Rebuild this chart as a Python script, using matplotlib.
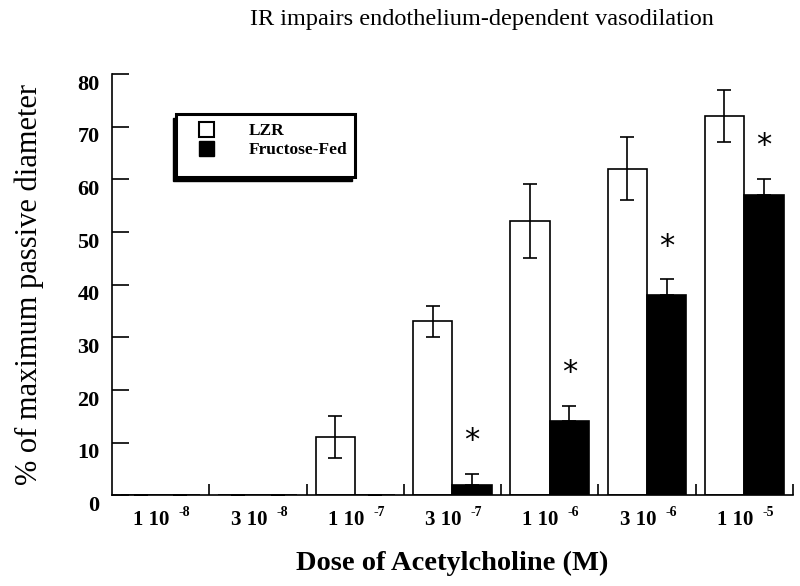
import numpy as np
import matplotlib
matplotlib.use("Agg")
import matplotlib.pyplot as plt
from matplotlib.patches import Patch, Rectangle
from matplotlib.transforms import ScaledTranslation

plt.rcParams['font.family'] = ['Liberation Serif', 'DejaVu Serif']

doses = ["1 10", "3 10", "1 10", "3 10", "1 10", "3 10", "1 10"]
exponents = ["-8", "-8", "-7", "-7", "-6", "-6", "-5"]
lzr = [0, 0, 11, 33, 52, 62, 72]
lzr_err = [0, 0, 4, 3, 7, 6, 5]
fructose = [0, 0, 0, 2, 14, 38, 57]
fructose_err = [0, 0, 0, 2, 3, 3, 3]
significant = [False, False, False, True, True, True, True]

fig = plt.figure(figsize=(8, 5.86), dpi=100)
ax = fig.add_axes([0.14, 0.155, 0.851, 0.719])

x = np.arange(len(doses))
w = 0.405

ax.bar(x - w / 2, lzr, w, color='white', edgecolor='black', linewidth=1.2, zorder=2)
ax.bar(x + w / 2, fructose, w, color='black', edgecolor='black', linewidth=1.2, zorder=2)

ax.errorbar(x - w / 2, lzr, yerr=lzr_err, fmt='none', ecolor='black',
            elinewidth=1.2, capsize=5, capthick=1.2, zorder=3)
ax.errorbar(x + w / 2, fructose, yerr=[np.zeros(len(x)), fructose_err], fmt='none',
            ecolor='black', elinewidth=1.2, capsize=5, capthick=1.2, zorder=3)

for xi, v, e, s in zip(x, fructose, fructose_err, significant):
    if s:
        ax.text(xi + w / 2, v + e + 6.3, "*", ha='center', va='center',
                fontsize=22, family='DejaVu Sans')

ax.set_xlim(-0.5, len(doses) - 0.5)
ax.set_ylim(0, 80)
ax.set_yticks(np.arange(0, 81, 10))
ax.set_xticks(x)
ax.set_xticklabels(doses)
ax.set_xticks(x + 0.5, minor=True)

ax.tick_params(axis='y', direction='in', length=12, width=1.2, labelsize=16, pad=9)
ax.tick_params(axis='x', which='major', length=0, labelsize=15, pad=11)
ax.tick_params(axis='x', which='minor', direction='in', length=8, width=1.2)
for lab in ax.get_yticklabels() + ax.get_xticklabels():
    lab.set_fontweight('bold')
yoff = ScaledTranslation(0, -6 / 72, fig.dpi_scale_trans)
for lab in ax.get_yticklabels():
    lab.set_transform(lab.get_transform() + yoff)
xoff = ScaledTranslation(-9 / 100, 0, fig.dpi_scale_trans)
for lab in ax.get_xticklabels():
    lab.set_transform(lab.get_transform() + xoff)

# small raised exponents next to the dose labels
for xi, e in zip(x, exponents):
    ax.annotate(e, xy=(xi, 0), xycoords=('data', 'axes fraction'),
                xytext=(24, -17), textcoords='offset pixels',
                ha='center', va='center', fontsize=10, fontweight='bold')

for side in ['top', 'right']:
    ax.spines[side].set_visible(False)
for side in ['left', 'bottom']:
    ax.spines[side].set_linewidth(1.2)

ax.set_ylabel("% of maximum passive diameter", fontsize=22, labelpad=24)
ax.set_xlabel("Dose of Acetylcholine (M)", fontsize=20.5, fontweight='bold', labelpad=15)
fig.text(0.602, 0.967, "IR impairs endothelium-dependent vasodilation",
         ha='center', va='center', fontsize=17.5)

# legend: frame with drop shadow, drawn in axes coordinates
x0, y0, bw, bh = 0.094, 0.755, 0.263, 0.150
ax.add_patch(Rectangle((x0 - 0.004, y0 - 0.010), bw, bh, transform=ax.transAxes,
                       facecolor='black', edgecolor='black', zorder=4, clip_on=False))
ax.add_patch(Rectangle((x0, y0), bw, bh, transform=ax.transAxes, facecolor='white',
                       edgecolor='black', linewidth=2.2, zorder=5, clip_on=False))

handles = [Patch(facecolor='white', edgecolor='black', linewidth=1.5, label='LZR'),
           Patch(facecolor='black', edgecolor='black', label='Fructose-Fed')]
leg = ax.legend(handles=handles, loc='upper left', bbox_to_anchor=(0.128, 0.885),
                prop={'family': 'Liberation Serif', 'weight': 'bold', 'size': 12.5},
                frameon=False, handlelength=0.85, handleheight=0.9, labelspacing=0.1,
                borderpad=0, handletextpad=2.0, borderaxespad=0)
leg.set_zorder(6)

fig.savefig("out.png", dpi=100)
